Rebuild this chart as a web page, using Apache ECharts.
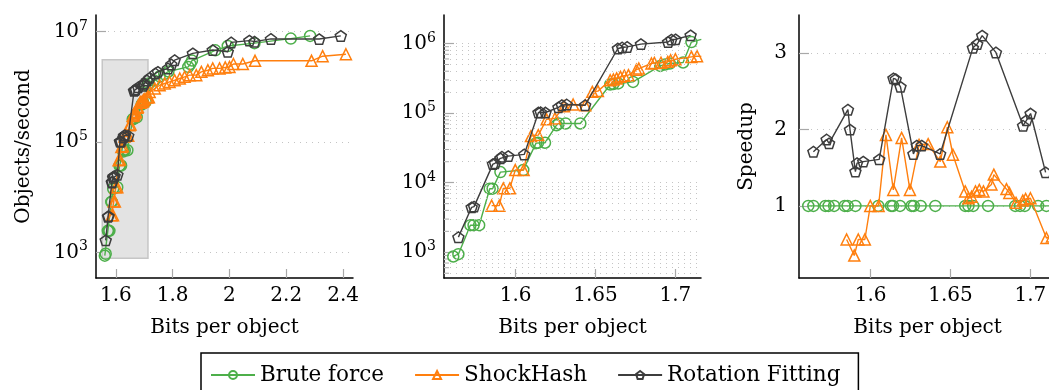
<!DOCTYPE html>
<html>
<head>
<meta charset="utf-8">
<script src="https://cdn.jsdelivr.net/npm/echarts@6/dist/echarts.min.js"></script>
<style>
  html, body { margin: 0; padding: 0; background: #fff; overflow: hidden; }
  #chart { width: 1060px; height: 390px; }
</style>
</head>
<body>
<div id="chart"></div>
<script>
// ---- data (bits per object -> objects/second, speedup vs brute force) ----
// zoomed range, shared by middle and right panels
const bfX = [1.5610, 1.5642, 1.5717, 1.5737, 1.5772, 1.5838, 1.5856, 1.5905, 1.6048, 1.6128, 1.6140, 1.6184, 1.6256,
  1.6270, 1.6313, 1.6405, 1.6592, 1.6612, 1.6642, 1.6735, 1.6905, 1.6935, 1.6965, 1.7048, 1.7100, 1.7162];
const bfObj = [870, 940, 2450, 2450, 2450, 8200, 8200, 14200, 15200, 37000, 37500, 37500, 67000,
  71000, 71000, 71000, 258000, 262000, 267000, 281000, 477000, 500000, 516000, 534000, 1050000, 1150000];
const bfSpeed = [1, 1, 1, 1, 1, 1, 1, 1, 1, 1, 1, 1, 1, 1, 1, 1, 1, 1, 1, 1, 1, 1, 1, 1, 1, 1];

const shX = [1.5850, 1.5898, 1.5923, 1.5964, 1.5998, 1.6050, 1.6096, 1.6142, 1.6194, 1.6246, 1.6303, 1.6360, 1.6436,
  1.6480, 1.6515, 1.6592, 1.6612, 1.6632, 1.6656, 1.6680, 1.6706, 1.6756, 1.6771, 1.6850, 1.6868, 1.6910, 1.6952,
  1.6970, 1.7000, 1.7100, 1.7135, 1.7162];
const shObj = [4680, 4680, 8300, 8300, 15200, 15200, 46800, 48300, 81300, 84000, 126000, 133000, 130000,
  202000, 207000, 297000, 304000, 315000, 332000, 345000, 351000, 420000, 437000, 516000, 527000, 530000, 545000,
  575000, 595000, 642000, 658000, 650000];
const shSpeed = [0.56, 0.35, 0.56, 0.56, 1.0, 1.0, 1.93, 1.21, 1.89, 1.21, 1.80, 1.81, 1.58,
  2.03, 1.67, 1.19, 1.10, 1.12, 1.19, 1.21, 1.19, 1.28, 1.41, 1.22, 1.17, 1.04, 1.07,
  1.09, 1.10, 0.58, 0.60, 0.57];

const rfX = [1.5642, 1.5725, 1.5740, 1.5858, 1.5871, 1.5905, 1.5915, 1.5954, 1.6054, 1.6143, 1.6157, 1.6187,
  1.6268, 1.6289, 1.6320, 1.6435, 1.6640, 1.6667, 1.6698, 1.6784, 1.6954, 1.6975, 1.7001, 1.7095];
const rfObj = [1650, 4430, 4530, 18500, 19000, 22400, 23600, 24100, 25500, 102000, 103000, 102000,
  121000, 130000, 133000, 130000, 848000, 877000, 894000, 980000, 1050000, 1140000, 1150000, 1310000];
const rfSpeed = [1.71, 1.87, 1.82, 2.26, 2.00, 1.45, 1.56, 1.58, 1.61, 2.67, 2.66, 2.56,
  1.68, 1.79, 1.79, 1.68, 3.07, 3.12, 3.23, 3.01, 2.05, 2.12, 2.21, 1.44];

// extra points only in the full-range (left) panel
const bfXExt = [1.735, 1.754, 1.770, 1.785, 1.855, 1.862, 1.868, 1.950, 1.994, 2.088, 2.216, 2.284];
const bfObjExt = [1.3e6, 1.55e6, 1.7e6, 1.9e6, 2.3e6, 2.6e6, 3.0e6, 4.6e6, 5.5e6, 6.2e6, 7.5e6, 8.4e6];
const shXExt = [1.719, 1.737, 1.754, 1.772, 1.789, 1.807, 1.825, 1.842, 1.860, 1.883, 1.901, 1.924, 1.941,
  1.965, 1.985, 2.000, 2.014, 2.047, 2.090, 2.289, 2.328, 2.410];
const shObjExt = [811e3, 935e3, 1.07e6, 1.15e6, 1.23e6, 1.32e6, 1.42e6, 1.52e6, 1.63e6, 1.63e6, 1.87e6, 2.0e6, 2.16e6,
  2.16e6, 2.25e6, 2.3e6, 2.6e6, 2.6e6, 2.97e6, 2.97e6, 3.6e6, 3.9e6];
const rfXExt = [1.719, 1.739, 1.748, 1.7835, 1.795, 1.807, 1.871, 1.941, 1.994, 2.006, 2.070, 2.088, 2.146, 2.316, 2.392];
const rfObjExt = [1.46e6, 1.75e6, 1.87e6, 2.16e6, 2.55e6, 3.05e6, 4.05e6, 4.65e6, 4.33e6, 6.4e6, 6.9e6, 6.6e6, 7.4e6, 7.36e6, 8.4e6];

// axes / ticks
const xTicksFull = [1.6, 1.8, 2.0, 2.2, 2.4];
const xTicksZoom = [1.6, 1.65, 1.7];
const yTicksFull = [1e3, 1e5, 1e7];
const yTicksZoom = [1e3, 1e4, 1e5, 1e6];
const yMinorZoom = [500, 600, 700, 800, 900, 2e3, 3e3, 4e3, 5e3, 6e3, 7e3, 8e3, 9e3,
  2e4, 3e4, 4e4, 5e4, 6e4, 7e4, 8e4, 9e4, 2e5, 3e5, 4e5, 5e5, 6e5, 7e5, 8e5, 9e5];
const speedTicks = [1, 2, 3];
const zoomBoxX = [1.552, 1.713];
const zoomBoxY = [780, 3.1e6];

const names = ["Brute force", "ShockHash", "Rotation Fitting"];
const colors = ["#4daf4a", "#ff7f0e", "#3d3d3d"];
const pentagon = "path://M0,-10L9.51,-3.09L5.88,8.09L-5.88,8.09L-9.51,-3.09Z";
const symbols = ["circle", "triangle", pentagon];

const FONT = '"DejaVu Serif", serif';
const FS = 20;

function pairs(xs, ys) {
  return xs.map((x, i) => [x, ys[i]]);
}

function lineSeries(k, data, idx) {
  return {
    name: names[k],
    type: "line",
    xAxisIndex: idx,
    yAxisIndex: idx,
    data: data,
    color: colors[k],
    symbol: symbols[k],
    symbolSize: 11,
    symbolKeepAspect: true,
    showAllSymbol: true,
    lineStyle: { color: colors[k], width: 1.4 },
    itemStyle: { color: "rgba(255,255,255,0)", borderColor: colors[k], borderWidth: 1.5 },
    z: 3 + k,
    animation: false,
  };
}

const gridLine = { show: true, lineStyle: { color: "#c4c4c4", type: [1, 5], width: 1 } };
const tickStyle = { color: "#a8a8a8", width: 1.2 };

function xAxis(idx, min, max, ticks) {
  return {
    type: "value",
    gridIndex: idx,
    min: min,
    max: max,
    name: "Bits per object",
    nameLocation: "middle",
    nameGap: 40,
    nameTextStyle: { fontFamily: FONT, fontSize: FS, color: "#000" },
    axisLine: { onZero: false, lineStyle: { color: "#000", width: 1.5 } },
    axisTick: { inside: true, length: 9, customValues: ticks, lineStyle: tickStyle },
    axisLabel: {
      customValues: ticks,
      margin: 8,
      fontFamily: FONT,
      fontSize: FS,
      color: "#000",
      formatter: (v) => String(+v.toFixed(2)),
    },
    splitLine: { show: false },
  };
}

const supLabel = {
  fontFamily: FONT,
  fontSize: FS,
  color: "#000",
  margin: 8,
  formatter: (v) => "10{sup|" + Math.round(Math.log10(v)) + "}",
  rich: {
    sup: { fontFamily: FONT, fontSize: 14, color: "#000", padding: [0, 0, 11, 0] },
  },
};

function logAxis(idx, min, max, ticks, name) {
  return {
    type: "log",
    logBase: 10,
    gridIndex: idx,
    min: min,
    max: max,
    name: name,
    nameLocation: "middle",
    nameGap: 62,
    nameTextStyle: { fontFamily: FONT, fontSize: FS, color: "#000" },
    axisLine: { show: true, lineStyle: { color: "#000", width: 1.5 } },
    axisTick: { inside: true, length: 10, customValues: ticks, lineStyle: tickStyle },
    axisLabel: Object.assign({ customValues: ticks }, supLabel),
    splitLine: gridLine,
  };
}

const chart = echarts.init(document.getElementById("chart"));

const option = {
  animation: false,
  backgroundColor: "#fff",
  grid: [
    { left: 96, top: 15, width: 257, height: 263 },
    { left: 444, top: 15, width: 257, height: 263 },
    { left: 799, top: 15, width: 257, height: 263 },
  ],
  xAxis: [
    xAxis(0, 1.53, 2.435, xTicksFull),
    xAxis(1, 1.5552, 1.716, xTicksZoom),
    xAxis(2, 1.5552, 1.716, xTicksZoom),
  ],
  yAxis: [
    logAxis(0, 342, 2.01e7, yTicksFull, "Objects/second"),
    logAxis(1, 427, 2.57e6, yTicksZoom, ""),
    {
      type: "value",
      gridIndex: 2,
      min: 0.056,
      max: 3.5,
      name: "Speedup",
      nameLocation: "middle",
      nameGap: 42,
      nameTextStyle: { fontFamily: FONT, fontSize: FS, color: "#000" },
      axisLine: { show: true, lineStyle: { color: "#000", width: 1.5 } },
      axisTick: { inside: true, length: 10, customValues: speedTicks, lineStyle: tickStyle },
      axisLabel: { customValues: speedTicks, margin: 12, fontFamily: FONT, fontSize: FS, color: "#000" },
      splitLine: gridLine,
    },
  ],
  legend: {
    data: names,
    left: 201,
    top: 353,
    itemWidth: 44,
    itemHeight: 10,
    itemGap: 30,
    selectedMode: false,
    borderColor: "#000",
    borderWidth: 1.5,
    borderRadius: 0,
    padding: [11, 18, 14, 9],
    textStyle: { fontFamily: FONT, fontSize: 21.5, color: "#000" },
  },
  series: [
    // grey box showing the zoomed region
    {
      type: "line",
      xAxisIndex: 0,
      yAxisIndex: 0,
      data: [],
      silent: true,
      z: 1,
      markArea: {
        silent: true,
        itemStyle: { color: "#e3e3e3", borderColor: "#c6c6c6", borderWidth: 1.5 },
        data: [[{ coord: [zoomBoxX[0], zoomBoxY[0]] }, { coord: [zoomBoxX[1], zoomBoxY[1]] }]],
      },
    },
    // minor grid of the middle panel
    {
      type: "line",
      xAxisIndex: 1,
      yAxisIndex: 1,
      data: [],
      silent: true,
      z: 1,
      markLine: {
        silent: true,
        symbol: "none",
        label: { show: false },
        lineStyle: { color: "#c4c4c4", type: [1, 5], width: 1 },
        data: yMinorZoom.map((v) => ({ yAxis: v })),
      },
    },
    // minor ticks of the middle panel
    {
      type: "custom",
      xAxisIndex: 1,
      yAxisIndex: 1,
      silent: true,
      z: 2,
      data: yMinorZoom.map((v) => [1.5552, v]),
      renderItem: (params, api) => {
        const p = api.coord([api.value(0), api.value(1)]);
        return {
          type: "line",
          shape: { x1: p[0], y1: p[1], x2: p[0] + 5, y2: p[1] },
          style: { stroke: "#a8a8a8", lineWidth: 1 },
        };
      },
    },
    lineSeries(0, pairs(bfX.concat(bfXExt), bfObj.concat(bfObjExt)), 0),
    lineSeries(1, pairs(shX.concat(shXExt), shObj.concat(shObjExt)), 0),
    lineSeries(2, pairs(rfX.concat(rfXExt), rfObj.concat(rfObjExt)), 0),
    lineSeries(0, pairs(bfX, bfObj), 1),
    lineSeries(1, pairs(shX, shObj), 1),
    lineSeries(2, pairs(rfX, rfObj), 1),
    lineSeries(0, pairs(bfX, bfSpeed), 2),
    lineSeries(1, pairs(shX, shSpeed), 2),
    lineSeries(2, pairs(rfX, rfSpeed), 2),
  ],
};

chart.setOption(option);
</script>
</body>
</html>
